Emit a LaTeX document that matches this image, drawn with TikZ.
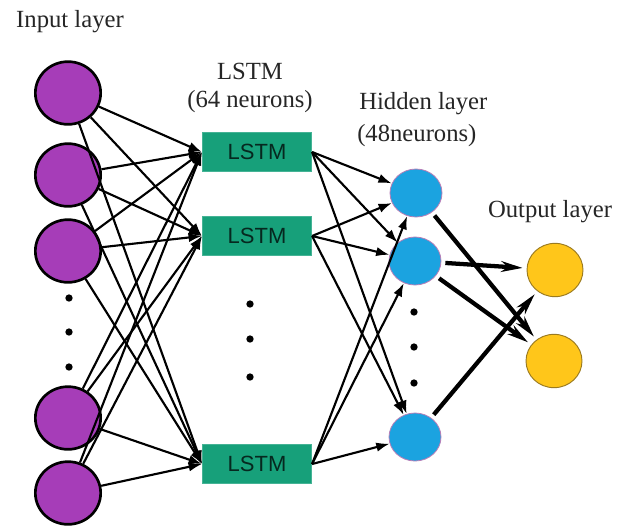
\documentclass[tikz,border=0pt]{standalone}
\usepackage{fontspec}
\setmainfont{Liberation Serif}
\newfontfamily\boxfont{Liberation Sans}
\usetikzlibrary{shapes.geometric,arrows.meta}

\definecolor{inpurple}{HTML}{A63DB8}
\definecolor{lstmgreen}{HTML}{17A07A}
\definecolor{hidblue}{HTML}{1BA3E0}
\definecolor{hidedge}{HTML}{B77FB8}
\definecolor{outyellow}{HTML}{FFC61A}
\definecolor{outedge}{HTML}{9A7A20}

\tikzset{
  inneuron/.style={ellipse, draw=black, line width=2pt, fill=inpurple,
    minimum width=49pt, minimum height=47pt, inner sep=0pt},
  lstmbox/.style={rectangle, fill=lstmgreen, draw=lstmgreen!80!white, line width=0.6pt,
    minimum width=82pt, minimum height=29pt, inner sep=0pt,
    font=\boxfont\fontsize{16.5}{18}\selectfont, text=black!75!lstmgreen},
  hidneuron/.style={ellipse, draw=hidedge, line width=0.6pt, fill=hidblue,
    minimum width=39pt, minimum height=36pt, inner sep=0pt},
  outneuron/.style={ellipse, draw=outedge, line width=0.7pt, fill=outyellow,
    minimum width=42pt, minimum height=40pt, inner sep=0pt},
  layerlabel/.style={font=\fontsize{18.5}{20}\selectfont, text=black!85, inner sep=0pt},
  vdot/.style={circle, fill=black, minimum size=5.5pt, inner sep=0pt},
  link/.style={line width=1.6pt, -{Latex[length=10pt,width=7pt]}},
  boldlink/.style={line width=3.2pt, -{Stealth[length=16pt,width=8pt,inset=5pt]},
    shorten <=3pt, shorten >=3pt}
}

\begin{document}
\begin{tikzpicture}[x=0.75pt,y=-0.75pt]
  \useasboundingbox (0,0) rectangle (617,526);
  \fill[white] (0,0) rectangle (617,526);

  % layer titles
  \node[layerlabel] (tin) at (70,22) {Input layer};
  \node[layerlabel] (tl1) at (250,71) {LSTM};
  \node[layerlabel] (tl2) at (250,102) {(64 neurons)};
  \node[layerlabel, anchor=west] (th1) at (359,104) {Hidden layer};
  \node[layerlabel, anchor=west] (th2) at (357,136) {(48neurons)};
  \node[layerlabel] (tout) at (550,212) {Output layer};

  % input layer
  \node[inneuron] (i1) at (68,93) {};
  \node[inneuron] (i2) at (68,175) {};
  \node[inneuron] (i3) at (68,251) {};
  \node[inneuron] (i4) at (68,418) {};
  \node[inneuron] (i5) at (68,493) {};
  \node[vdot] (di1) at (69,298) {};
  \node[vdot] (di2) at (69,332) {};
  \node[vdot] (di3) at (69,367) {};

  % LSTM layer
  \node[lstmbox] (l1) at (257,152) {LSTM};
  \node[lstmbox] (l2) at (257,236) {LSTM};
  \node[lstmbox] (l3) at (257,464) {LSTM};
  \node[vdot] (dl1) at (250,304) {};
  \node[vdot] (dl2) at (250,339) {};
  \node[vdot] (dl3) at (250,377) {};

  % hidden layer
  \node[hidneuron] (h1) at (416,193) {};
  \node[hidneuron] (h2) at (415,261) {};
  \node[hidneuron] (h3) at (415,437) {};
  \node[vdot] (dh1) at (414,312) {};
  \node[vdot] (dh2) at (414,347) {};
  \node[vdot] (dh3) at (414,383) {};

  % output layer
  \node[outneuron] (o1) at (555,270) {};
  \node[outneuron] (o2) at (554,361) {};

  % input -> LSTM
  \foreach \a in {i1,i2,i3,i4,i5}
    \foreach \b in {l1,l2,l3}
      \draw[link] (\a) -- (\b.west);

  % LSTM -> hidden
  \foreach \a in {l1,l2,l3}
    \foreach \b in {h1,h2,h3}
      \draw[link] (\a.east) -- (\b);

  % hidden -> output
  \draw[boldlink] (h1) -- (o2);
  \draw[boldlink] (h2) -- (o1);
  \draw[boldlink] (h2) -- (o2);
  \draw[boldlink] (h3) -- (o1);
\end{tikzpicture}
\end{document}
